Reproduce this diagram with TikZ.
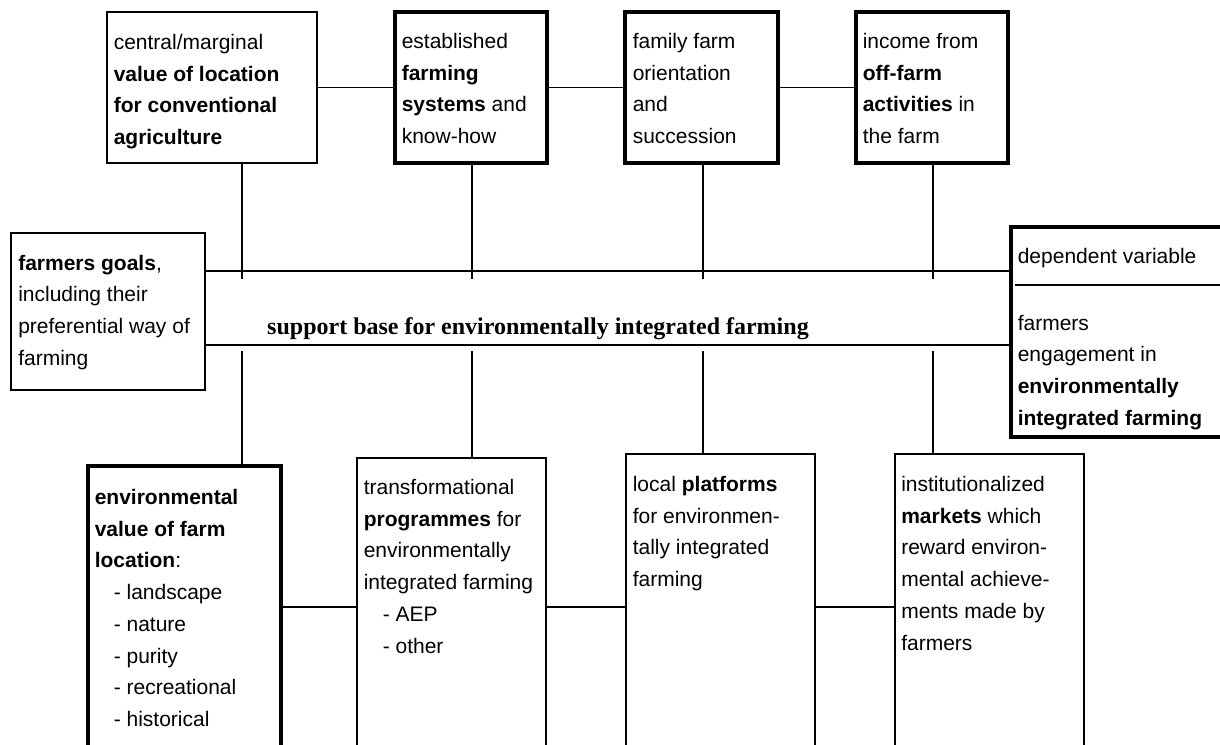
\documentclass[tikz,border=0pt]{standalone}
\usepackage{fontspec}
\setmainfont{Liberation Sans}
\newfontfamily\headfont{Liberation Serif}
\usetikzlibrary{fit}

\tikzset{
  box/.style={draw, line width=0.6pt, inner sep=0pt},
  heavybox/.style={draw, line width=1.6pt, inner sep=0pt},
  txt/.style={anchor=north west, inner sep=0pt, align=left, font=\fontsize{10.5}{15.85}\selectfont},
  link/.style={line width=0.6pt},
}

\begin{document}
\begin{tikzpicture}[x=0.5pt, y=-0.5pt]
  \useasboundingbox (0,0) rectangle (1220,744);
  \clip (0,0) rectangle (1220,744);

  % top row of boxes
  \node[box, fit={(107,12) (317,163)}] (locval) {};
  \node[heavybox, fit={(395,12) (547,163)}] (farmsys) {};
  \node[heavybox, fit={(625,12) (778,163)}] (family) {};
  \node[heavybox, fit={(856,12) (1008,163)}] (offfarm) {};
  \node[txt] (locval-t) at ([shift={(7,22.5)}]locval.north west)
    {central/marginal\\ \textbf{value of location}\\ \textbf{for conventional}\\ \textbf{agriculture}};
  \node[txt] (farmsys-t) at ([shift={(8,22.5)}]farmsys.north west)
    {established\\ \textbf{farming}\\ \textbf{systems} and\\ know-how};
  \node[txt] (family-t) at ([shift={(9,22.5)}]family.north west)
    {family farm\\ orientation\\ and\\ succession};
  \node[txt] (offfarm-t) at ([shift={(8,22.5)}]offfarm.north west)
    {income from\\ \textbf{off-farm}\\ \textbf{activities} in\\ the farm};

  % middle: goals, band, dependent variable
  \node[box, fit={(11,233) (205,390)}] (goals) {};
  \node[txt] (goals-t) at ([shift={(7.5,22)}]goals.north west)
    {\textbf{farmers goals},\\ including their\\ preferential way of\\ farming};
  \node[heavybox, fit={(1011,227) (1240,437)}] (depvar) {};
  \node[txt] (depvar-t) at ([shift={(8,22)}]depvar.north west) {dependent variable};
  \node[txt] (depvar-b) at ([shift={(8,89)}]depvar.north west)
    {farmers\\ engagement in\\ \textbf{environmentally}\\ \textbf{integrated farming}};
  \coordinate (split) at (1015,285);
  \draw[line width=1pt] (split) -- (split -| depvar.east);

  \coordinate (bandtop) at (0,271);
  \coordinate (bandbot) at (0,345);
  \draw[link] (goals.east |- bandtop) -- (depvar.west |- bandtop);
  \draw[link] (goals.east |- bandbot) -- (depvar.west |- bandbot);
  \node[anchor=base, inner sep=0pt, font=\headfont\bfseries\fontsize{12}{14}\selectfont] (support) at (538,334)
    {support base for environmentally integrated farming};

  % bottom row of boxes
  \node[heavybox, fit={(88,466) (281,800)}] (envval) {};
  \node[box, fit={(357,458) (546,800)}] (programmes) {};
  \node[box, fit={(626,454) (815,800)}] (platforms) {};
  \node[box, fit={(895,454) (1084,800)}] (markets) {};
  \node[txt] (envval-t) at ([shift={(8,24.5)}]envval.north west)
    {\textbf{environmental}\\ \textbf{value of farm}\\ \textbf{location}:\\
     \hspace*{9.5pt}- landscape\\ \hspace*{9.5pt}- nature\\ \hspace*{9.5pt}- purity\\
     \hspace*{9.5pt}- recreational\\ \hspace*{9.5pt}- historical};
  \node[txt] (programmes-t) at ([shift={(7,21.5)}]programmes.north west)
    {transformational\\ \textbf{programmes} for\\ environmentally\\ integrated farming\\
     \hspace*{9.5pt}- AEP\\ \hspace*{9.5pt}- other};
  \node[txt] (platforms-t) at ([shift={(7,22.5)}]platforms.north west)
    {local \textbf{platforms}\\ for environmen-\\ tally integrated\\ farming};
  \node[txt] (markets-t) at ([shift={(6.5,22.5)}]markets.north west)
    {institutionalized\\ \textbf{markets} which\\ reward environ-\\ mental achieve-\\ ments made by\\ farmers};

  % connectors
  \draw[link] (locval) -- (farmsys);
  \draw[link] (farmsys) -- (family);
  \draw[link] (family) -- (offfarm);
  \coordinate (lowmid) at (0,607);
  \foreach \a/\b in {envval/programmes, programmes/platforms, platforms/markets}
    \draw[link] (\a.east |- lowmid) -- (\b.west |- lowmid);
  \foreach \up/\down/\x in {locval/envval/242, farmsys/programmes/472, family/platforms/703, offfarm/markets/933} {
    \coordinate (col) at (\x,0);
    \draw[link] (\up.south -| col) -- ([yshift=-3.75pt]col |- bandtop);
    \draw[link] ([yshift=-3pt]col |- bandbot) -- (\down.north -| col);
  }
\end{tikzpicture}
\end{document}
